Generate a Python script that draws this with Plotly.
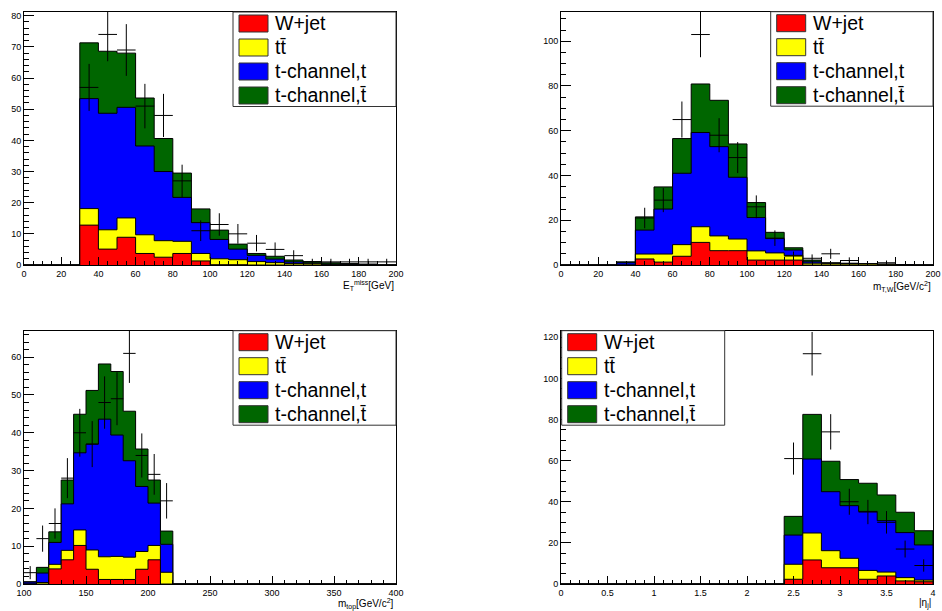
import numpy as np
import plotly.graph_objects as go

# ---------------- data ----------------
# Panel 1: missing transverse energy, bins of 10 GeV from 0 to 200
met_edges = list(range(0, 210, 10))
met_wjet = [0, 0, 0, 12.8, 5.1, 8.9, 3.7, 2.5, 3.7, 1.3, 0.1, 0.1, 0, 0, 0, 0, 0, 0, 0, 0]
met_ttbar = [0, 0, 0, 5.3, 6.2, 6.2, 6.0, 5.3, 3.9, 2.4, 1.9, 1.6, 1.1, 0.75, 0.5, 0.4, 0.1, 0, 0, 0]
met_tch_t = [0, 0, 0, 35.3, 37.4, 35.5, 28.5, 22.2, 14.1, 9.9, 6.2, 3.4, 2.0, 1.15, 0.5, 0.2, 0.2, 0.2, 0.1, 0]
met_tch_tbar = [0, 0, 0, 17.9, 19.9, 17.4, 15.4, 10.6, 7.8, 4.4, 3.0, 1.6, 0.6, 0.9, 0.6, 0.5, 0.4, 0.3, 0.2, 0]
met_data = [0, 0, 0, 57, 74, 69, 51, 48, 27, 11, 13, 10, 7, 5, 3, 1, 1, 1, 1, 1]

# Panel 2: transverse W mass, bins of 10 GeV/c^2 from 0 to 200
mtw_edges = list(range(0, 210, 10))
mtw_wjet = [0, 0, 0, 0, 2.7, 1.3, 3.9, 10.1, 6.4, 6.4, 2.2, 2.2, 2.2, 0, 0, 0, 0, 0, 0, 0]
mtw_ttbar = [0, 0, 0, 0, 2.2, 3.6, 5.2, 7.0, 6.6, 5.2, 4.1, 3.2, 2.1, 0.8, 0.6, 0.5, 0.5, 0.3, 0, 0]
mtw_tch_t = [0, 0, 0, 1.0, 10.7, 20.1, 31.9, 42.1, 39.9, 27.6, 14.9, 6.4, 2.4, 0.6, 0.2, 0.1, 0, 0, 0.1, 0]
mtw_tch_tbar = [0, 0, 0, 0.4, 5.9, 9.9, 15.5, 21.7, 20.7, 14.9, 6.7, 2.8, 1.0, 0.8, 0.2, 0.2, 0.1, 0.1, 0.1, 0]
mtw_data = [0, 0, 0, 0, 21, 29, 65, 103, 58, 48, 26, 12, 4, 3, 5, 2, 0, 1, 0, 0]

# Panel 3: reconstructed top mass, bins of 10 GeV/c^2 from 100 to 400
mtop_edges = list(range(100, 410, 10))
mtop_wjet = [0, 0, 4.0, 6.4, 10.2, 3.9, 1.2, 1.2, 1.2, 3.9, 6.4, 0] + [0] * 18
mtop_ttbar = [0, 0.4, 1.2, 2.5, 4.1, 5.1, 6.0, 6.1, 5.9, 4.7, 3.8, 3.1] + [0] * 18
mtop_tch_t = [0.5, 2.5, 5.8, 12.3, 20.4, 28.0, 36.4, 32.1, 25.5, 17.2, 11.2, 7.4] + [0] * 18
mtop_tch_tbar = [0.1, 1.5, 2.8, 6.3, 10.2, 14.2, 14.6, 16.8, 13.1, 9.9, 6.1, 3.5] + [0] * 18
mtop_data = [3, 12, 16, 28, 40, 37, 48, 49, 61, 34, 29, 22] + [0] * 18

# Panel 4: |eta| of the light jet, bins of 0.2 from 0 to 4
eta_edges = [round(0.2 * i, 1) for i in range(21)]
eta_wjet = [0] * 12 + [2.3, 11.7, 7.9, 7.9, 2.3, 3.9, 1.5, 1.1]
eta_ttbar = [0] * 12 + [7.3, 13.1, 8.3, 4.6, 4.3, 1.9, 1.6, 0.8]
eta_tch_t = [0] * 12 + [14.2, 36.0, 28.7, 25.6, 28.7, 25.0, 21.9, 17.1]
eta_tch_tbar = [0] * 12 + [9.1, 21.7, 14.8, 12.7, 13.7, 12.5, 9.9, 6.9]
eta_data = [0] * 12 + [61, 112, 74, 40, 35, 30, 17, 9]

legend_names = ["W+jet", "tt\u0304", "t-channel,t", "t-channel,t\u0304"]
colors = ["#ff0000", "#ffff00", "#0000ff", "#006600"]

# ---------------- layout helpers ----------------
W, H = 942, 611
FONT = "Liberation Sans, Arial, Helvetica, sans-serif"

panels = [
    dict(edges=met_edges, comps=[met_wjet, met_ttbar, met_tch_t, met_tch_tbar], data=met_data,
         px=(24, 396), py=(12, 265), yrange=81.2, xdt=20, xminor=5, ydt=10, yminor=2,
         title="E<sub>T</sub><sup>miss</sup>[GeV]", leg_left=209, title_y=286),
    dict(edges=mtw_edges, comps=[mtw_wjet, mtw_ttbar, mtw_tch_t, mtw_tch_tbar], data=mtw_data,
         px=(561, 933), py=(11.7, 265), yrange=113.2, xdt=20, xminor=5, ydt=20, yminor=5,
         title="m<sub>T,W</sub>[GeV/c<sup>2</sup>]", leg_left=209.7, title_y=286),
    dict(edges=mtop_edges, comps=[mtop_wjet, mtop_ttbar, mtop_tch_t, mtop_tch_tbar], data=mtop_data,
         px=(24, 396), py=(330.7, 584), yrange=67.0, xdt=50, xminor=10, ydt=10, yminor=2,
         title="m<sub>top</sub>[GeV/c<sup>2</sup>]", leg_left=209, title_y=603.5),
    dict(edges=eta_edges, comps=[eta_wjet, eta_ttbar, eta_tch_t, eta_tch_tbar], data=eta_data,
         px=(561, 933), py=(330.7, 584), yrange=123.2, xdt=0.5, xminor=0.1, ydt=20, yminor=5,
         title="|\u03b7<sub>j</sub>|", leg_left=0.7, title_y=603.5),
]

fig = go.Figure()
shapes = []
annotations = []
layout = {}

for i, p in enumerate(panels, start=1):
    xa = "x" if i == 1 else f"x{i}"
    ya = "y" if i == 1 else f"y{i}"
    xkey = "xaxis" if i == 1 else f"xaxis{i}"
    ykey = "yaxis" if i == 1 else f"yaxis{i}"
    edges = np.asarray(p["edges"], float)
    comps = np.vstack([np.asarray(c, float) for c in p["comps"]])
    cum = np.cumsum(comps, axis=0)

    # stacked histograms drawn back to front (total first)
    for lev in range(3, -1, -1):
        yv = list(cum[lev]) + [0.0]
        fig.add_trace(go.Scatter(
            x=edges, y=yv, mode="lines",
            line=dict(shape="hv", color="black", width=1),
            fill="tozeroy", fillcolor=colors[lev],
            xaxis=xa, yaxis=ya, showlegend=False, hoverinfo="skip"))

    # data points with Poisson errors
    d = np.asarray(p["data"], float)
    centers = (edges[:-1] + edges[1:]) / 2
    half = (edges[1:] - edges[:-1]) / 2
    m = d > 0
    fig.add_trace(go.Scatter(
        x=centers[m], y=d[m], mode="markers",
        marker=dict(size=1, color="rgba(0,0,0,0)"),
        error_x=dict(type="data", array=half[m], width=0, thickness=1, color="black"),
        error_y=dict(type="data", array=np.sqrt(d[m]), width=0, thickness=1, color="black"),
        xaxis=xa, yaxis=ya, showlegend=False, hoverinfo="skip"))

    x0, x1 = p["px"]
    y0, y1 = p["py"]
    pw, ph = x1 - x0, y1 - y0
    layout[xkey] = dict(
        domain=[x0 / W, x1 / W], range=[edges[0], edges[-1]], anchor=ya, automargin=False,
        tick0=edges[0], dtick=p["xdt"], ticks="inside", ticklen=8, tickwidth=1, tickcolor="black",
        minor=dict(dtick=p["xminor"], ticks="inside", ticklen=4, tickwidth=1, tickcolor="black", showgrid=False),
        showline=True, linecolor="black", linewidth=1, mirror=True,
        showgrid=False, zeroline=False, tickfont=dict(size=9, color="black", family=FONT))
    layout[ykey] = dict(
        domain=[1 - y1 / H, 1 - y0 / H], range=[0, p["yrange"]], anchor=xa, automargin=False,
        tick0=0, dtick=p["ydt"], ticks="inside", ticklen=10, tickwidth=1, tickcolor="black",
        minor=dict(dtick=p["yminor"], ticks="inside", ticklen=5, tickwidth=1, tickcolor="black", showgrid=False),
        showline=True, linecolor="black", linewidth=1, mirror=True,
        showgrid=False, zeroline=False, tickfont=dict(size=9, color="black", family=FONT))

    # axis title at the right end
    annotations.append(dict(
        text=p["title"], xref=f"{xa} domain", yref=f"{ya} domain",
        x=1.0, y=-(p["title_y"] - y1) / ph, xanchor="right", yanchor="middle",
        showarrow=False, font=dict(size=10, color="black", family=FONT)))

    # legend box
    lw, lh = 163, 94.5
    lx0 = p["leg_left"] / pw
    lx1 = (p["leg_left"] + lw) / pw
    shapes.append(dict(type="rect", xref=f"{xa} domain", yref=f"{ya} domain",
                       x0=lx0, x1=min(lx1, 1.0), y0=1 - lh / ph, y1=1.0,
                       line=dict(color="#333333", width=1), fillcolor="white", layer="above"))
    for k in range(4):
        cy = 1 - (11.5 + 24 * k) / ph
        bh = 8.5 / ph
        shapes.append(dict(type="rect", xref=f"{xa} domain", yref=f"{ya} domain",
                           x0=(p["leg_left"] + 6) / pw, x1=(p["leg_left"] + 35) / pw,
                           y0=cy - bh, y1=cy + bh,
                           line=dict(color="#333333", width=1), fillcolor=colors[k], layer="above"))
        annotations.append(dict(
            text=legend_names[k], xref=f"{xa} domain", yref=f"{ya} domain",
            x=(p["leg_left"] + 40) / pw, y=cy, xanchor="left", yanchor="middle",
            showarrow=False, font=dict(size=19.5, color="black", family=FONT)))

fig.update_layout(
    width=W, height=H, margin=dict(l=0, r=0, t=0, b=0, autoexpand=False),
    paper_bgcolor="white", plot_bgcolor="white",
    font=dict(family=FONT, color="black"),
    shapes=shapes, annotations=annotations, showlegend=False,
    **layout)

fig.write_html("out.html", config={"displayModeBar": False},
               post_script="document.body.style.margin='0';document.body.style.padding='0';")
